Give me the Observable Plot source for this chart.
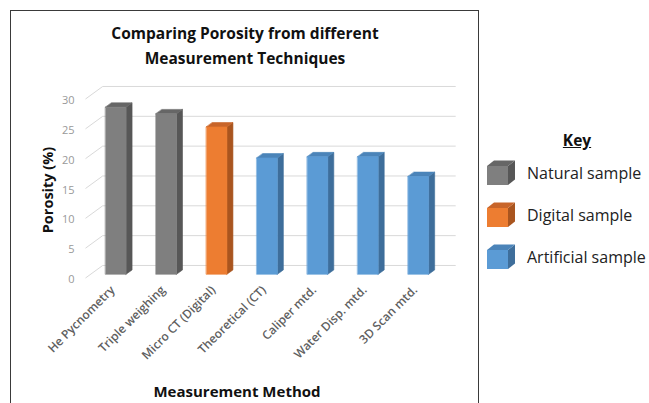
<!DOCTYPE html>
<html>
<head>
<meta charset="utf-8">
<script src="https://cdn.jsdelivr.net/npm/d3@7"></script>
<script src="https://cdn.jsdelivr.net/npm/@observablehq/plot@0.6"></script>
<style>
  html, body { margin: 0; padding: 0; background: #fff; overflow: hidden; }
  body { width: 649px; height: 403px; position: relative; font-family: "Open Sans", sans-serif; }
  #box { position: absolute; left: 10px; top: 10px; width: 469px; height: 420px; border: 1.5px solid #3a3a3a; box-sizing: border-box; }
  #plot { position: absolute; left: 0; top: 0; }
  .title { position: absolute; left: 10px; width: 470px; text-align: center; font-weight: 700; font-size: 15.5px; color: #111; line-height: 25px; top: 21px; }
  .ytitle { position: absolute; left: 47px; top: 190px; transform: translate(-50%, -50%) rotate(-90deg); font-weight: 700; font-size: 14.5px; color: #111; white-space: nowrap; }
  .xtitle { position: absolute; left: 237px; top: 391px; transform: translate(-50%, -50%); font-weight: 700; font-size: 15px; line-height: 18px; color: #111; white-space: nowrap; }
  #legend { position: absolute; left: 480px; top: 120px; }
</style>
</head>
<body>
<div id="box"></div>
<div id="plot"></div>
<div class="title">Comparing Porosity from different<br>Measurement Techniques</div>
<div class="ytitle">Porosity (%)</div>
<div class="xtitle">Measurement Method</div>
<div id="legend"></div>
<script>
// Porosity measured with each technique
const categories = ["He Pycnometry", "Triple weighing", "Micro CT (Digital)", "Theoretical (CT)", "Caliper mtd.", "Water Disp. mtd.", "3D Scan mtd."];
const porosity = [28.0, 26.9, 24.7, 19.5, 19.7, 19.7, 16.4];
const sampleOf = ["Natural sample", "Natural sample", "Digital sample", "Artificial sample", "Artificial sample", "Artificial sample", "Artificial sample"];

// Sample groups and their face shades (front, side, top)
const sampleTypes = ["Natural sample", "Digital sample", "Artificial sample"];
const frontColors = ["#7f7f7f", "#ed7d31", "#5b9bd5"];
const sideColors = ["#575757", "#a9551f", "#3e6e9b"];
const topColors = ["#666666", "#c8652a", "#4b84b9"];

const yTicks = [0, 5, 10, 15, 20, 25, 30];

// Oblique depth of the 3D box, in data units (x: categories, y: percent)
const DX = 0.341, DY = 2.1;
const barW = 0.407, barFront = 0.296, barDepth = 0.35;

const shade = (type, list) => list[sampleTypes.indexOf(type)];

// Build the three visible faces of each column as closed polygons
const faces = [];
categories.forEach((c, i) => {
  const v = porosity[i], t = sampleOf[i];
  const x0 = i + 0.5 - barW / 2 + barFront * DX, x1 = x0 + barW;
  const y0 = barFront * DY, y1 = v + barFront * DY;
  const ddx = barDepth * DX, ddy = barDepth * DY;
  const poly = (face, color, pts) => pts.forEach(([x, y]) => faces.push({id: c + face, color, x, y}));
  poly("side", shade(t, sideColors), [[x1, y0], [x1 + ddx, y0 + ddy], [x1 + ddx, y1 + ddy], [x1, y1]]);
  poly("top", shade(t, topColors), [[x0, y1], [x1, y1], [x1 + ddx, y1 + ddy], [x0 + ddx, y1 + ddy]]);
  poly("front", shade(t, frontColors), [[x0, y0], [x1, y0], [x1, y1], [x0, y1]]);
});

const n = categories.length;

const chart = Plot.plot({
  width: 480,
  height: 403,
  marginLeft: 85,
  marginRight: 42,
  marginTop: 98.5,
  marginBottom: 125.5,
  style: {background: "transparent", fontFamily: "Open Sans, sans-serif"},
  x: {domain: [0, n], axis: null},
  y: {domain: [0, 30], axis: null},
  color: {type: "identity"},
  marks: [
    // side-wall diagonals and back-wall gridlines
    Plot.link(yTicks, {x1: 0, y1: d => d, x2: DX, y2: d => d + DY, stroke: "#d9d9d9", strokeWidth: 1}),
    Plot.link(yTicks, {x1: DX, y1: d => d + DY, x2: n + DX, y2: d => d + DY, stroke: "#d9d9d9", strokeWidth: 1}),
    // value labels on the left
    Plot.axisY(yTicks, {tickSize: 0, tickPadding: 11, fontSize: 11, color: "#999", label: null, dy: 1.5}),
    // category labels
    Plot.axisX(categories.map((c, i) => i + 0.5), {
      tickSize: 0, tickPadding: 10, tickRotate: -45, fontSize: 12, fontWeight: 600,
      tickFormat: d => categories[Math.floor(d)], color: "#5f5f5f", label: null, dx: 2
    }),
    // 3D columns
    Plot.line(faces, {x: "x", y: "y", z: "id", fill: "color", stroke: "color", strokeWidth: 0.6, curve: "linear-closed"})
  ]
});
document.getElementById("plot").append(chart);

// Key with small cubes
const legend = d3.select("#legend");
legend.append("div")
  .style("position", "absolute").style("left", "97px").style("top", "20px")
  .style("transform", "translate(-50%, -50%)")
  .style("font-weight", "700").style("font-size", "15.5px").style("text-decoration", "underline")
  .style("color", "#111").text("Key");
sampleTypes.forEach((t, k) => {
  const top = 40 + k * 42;
  const svg = legend.append("svg")
    .attr("width", 30).attr("height", 28)
    .style("position", "absolute").style("left", "6px").style("top", `${top}px`);
  const fx = 1, fy = 6, fw = 21, fh = 19, dx = 7, dy = 5.5;
  svg.append("polygon").attr("fill", sideColors[k])
    .attr("points", `${fx + fw},${fy} ${fx + fw + dx},${fy - dy} ${fx + fw + dx},${fy + fh - dy} ${fx + fw},${fy + fh}`);
  svg.append("polygon").attr("fill", topColors[k])
    .attr("points", `${fx},${fy} ${fx + fw},${fy} ${fx + fw + dx},${fy - dy} ${fx + dx},${fy - dy}`);
  svg.append("rect").attr("fill", frontColors[k]).attr("x", fx).attr("y", fy).attr("width", fw).attr("height", fh);
  legend.append("div")
    .style("position", "absolute").style("left", "47px").style("top", `${top + 13}px`)
    .style("transform", "translateY(-50%)")
    .style("font-size", "16px").style("color", "#222").style("white-space", "nowrap")
    .text(t);
});
</script>
</body>
</html>
